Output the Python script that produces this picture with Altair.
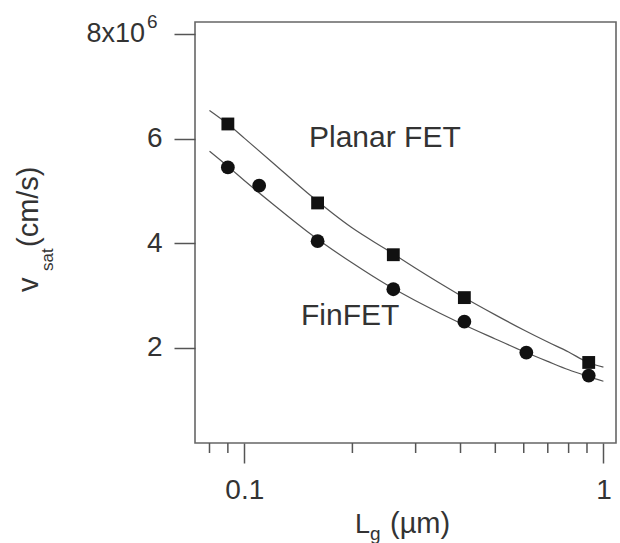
import altair as alt
import pandas as pd

# ---- data (v_sat in units of 1e6 cm/s, Lg in um) ----
planar_lg = [0.09, 0.16, 0.26, 0.41, 0.91]
planar_v = [6.28, 4.77, 3.78, 2.96, 1.72]
fin_lg = [0.09, 0.11, 0.16, 0.26, 0.41, 0.61, 0.91]
fin_v = [5.45, 5.10, 4.04, 3.12, 2.50, 1.91, 1.47]

fit_lg = [0.08, 0.09, 0.10, 0.12, 0.15, 0.20, 0.25, 0.30, 0.40, 0.50, 0.60, 0.70, 0.80, 0.90, 1.00]
planar_fit = [6.54, 6.28, 6.01, 5.54, 4.96, 4.29, 3.87, 3.52, 3.00, 2.63, 2.34, 2.11, 1.92, 1.73, 1.63]
fin_fit = [5.76, 5.47, 5.20, 4.75, 4.22, 3.62, 3.20, 2.90, 2.47, 2.17, 1.93, 1.74, 1.58, 1.46, 1.36]

x_major = [0.1, 1]
x_minor = [0.08, 0.09, 0.2, 0.3, 0.4, 0.5, 0.6, 0.7, 0.8, 0.9]
y_ticks = [2, 4, 6, 8]

FONT = "Liberation Sans"
TXT = "#333333"

pts = pd.concat([
    pd.DataFrame({"lg": planar_lg, "v": planar_v, "series": "Planar FET"}),
    pd.DataFrame({"lg": fin_lg, "v": fin_v, "series": "FinFET"}),
])
fits = pd.concat([
    pd.DataFrame({"lg": fit_lg, "v": planar_fit, "series": "Planar FET"}),
    pd.DataFrame({"lg": fit_lg, "v": fin_fit, "series": "FinFET"}),
])

xscale = alt.Scale(type="log", domain=[0.0729, 1.084], nice=False)
yscale = alt.Scale(domain=[0.18, 8.23], nice=False, zero=False)

xaxis = alt.Axis(orient="bottom", values=x_major, title=None, tickSize=20, tickWidth=1.5,
                 tickColor="#555555", domain=False, grid=False, labelFontSize=28,
                 labelFont=FONT, labelColor=TXT, labelPadding=13, format=".1~f",
                 labelFlush=False, labelOverlap=False)
yaxis = alt.Axis(orient="left", values=y_ticks, title=None, tickSize=21, tickWidth=1.5,
                 tickColor="#555555", domain=False, grid=False, labelFontSize=28,
                 labelFont=FONT, labelColor=TXT, labelPadding=12, labelOverlap=False,
                 labelExpr="datum.value == 8 ? '' : datum.label")

lines = alt.Chart(fits).mark_line(color="#555555", strokeWidth=1.2, interpolate="monotone").encode(
    x=alt.X("lg:Q", scale=xscale, axis=xaxis),
    y=alt.Y("v:Q", scale=yscale, axis=yaxis),
    detail="series:N",
)

points = alt.Chart(pts).mark_point(filled=True, opacity=1, color="#111111").encode(
    x=alt.X("lg:Q", scale=xscale, axis=xaxis),
    y=alt.Y("v:Q", scale=yscale, axis=yaxis),
    shape=alt.Shape("series:N", scale=alt.Scale(domain=["Planar FET", "FinFET"], range=["square", "circle"]),
                    legend=None),
    size=alt.Size("series:N", scale=alt.Scale(domain=["Planar FET", "FinFET"], range=[165, 190]),
                  legend=None),
)

minor_ticks = alt.Chart(pd.DataFrame({"lg": x_minor})).mark_rule(
    color="#555555", strokeWidth=1.5
).encode(
    x=alt.X("lg:Q", scale=xscale, axis=xaxis),
    y=alt.value(421),
    y2=alt.value(431),
)


def label(text, x, y, size, angle=0, align="left", baseline="alphabetic"):
    return alt.Chart(pd.DataFrame({"t": [text]})).mark_text(
        align=align, baseline=baseline, font=FONT, fontSize=size, color=TXT, angle=angle
    ).encode(x=alt.value(x), y=alt.value(y), text="t:N")


annotations = [
    label("Planar FET", 114, 125, 30),
    label("FinFET", 106, 303, 30),
    label("8x10", -50, 12, 27, align="right", baseline="middle"),
    label("6", -48, 6, 19),
    label("L", 160, 511, 27),
    label("g", 175, 518, 19),
    label("(µm)", 195, 511, 29),
    label("v", -157, 270, 29, angle=270),
    label("sat", -142, 249, 17, angle=270),
    label("(cm/s)", -157, 225, 29, angle=270),
]

chart = alt.layer(lines, points, minor_ticks, *annotations).properties(
    width=421, height=421,
    padding={"left": 195, "top": 22, "right": 4, "bottom": 100},
    autosize=alt.AutoSizeParams(type="none"),
    background="white",
).configure_view(stroke="#666666", strokeWidth=1.6)

chart.save("out.html", embed_options={"renderer": "svg", "actions": False})
